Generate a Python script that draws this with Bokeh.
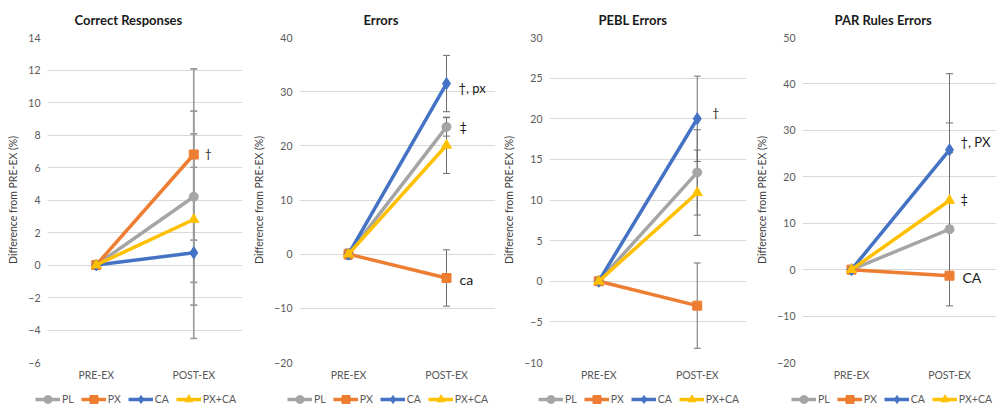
from bokeh.plotting import figure
from bokeh.layouts import row, column
from bokeh.models import Range1d, Legend, LegendItem, Label
from bokeh.embed import file_html
from bokeh.resources import INLINE

categories = ["PRE-EX", "POST-EX"]
series_names = ["PL", "PX", "CA", "PX+CA"]
series_colors = ["#A5A5A5", "#ED7D31", "#4472C4", "#FFC000"]
series_markers = ["circle", "square", "diamond", "triangle"]
series_msize = [9, 9, 12, 10]
titles = ["Correct Responses", "Errors", "PEBL Errors", "PAR Rules Errors"]

# Correct Responses
cr_pl = [0.0, 4.2]
cr_px = [0.0, 6.8]
cr_ca = [0.0, 0.75]
cr_pxca = [0.0, 2.8]
cr_err_pl = [0.0, 5.27]
cr_err_px = [0.0, 5.27]
cr_err_ca = [0.0, 5.27]
cr_err_pxca = [0.0, 5.27]

# Errors
er_pl = [0.0, 23.5]
er_px = [0.0, -4.4]
er_ca = [0.0, 31.5]
er_pxca = [0.0, 20.1]
er_err_pl = [0.95, 1.7]
er_err_px = [0.0, 5.2]
er_err_ca = [0.0, 5.2]
er_err_pxca = [0.0, 5.2]

# PEBL Errors
pe_pl = [0.0, 13.4]
pe_px = [0.0, -3.0]
pe_ca = [0.0, 20.0]
pe_pxca = [0.0, 10.9]
pe_err_pl = [0.0, 5.25]
pe_err_px = [0.0, 5.25]
pe_err_ca = [0.0, 5.25]
pe_err_pxca = [0.0, 5.25]

# PAR Rules Errors
pr_pl = [0.0, 8.7]
pr_px = [0.0, -1.3]
pr_ca = [0.0, 25.8]
pr_pxca = [0.0, 14.9]
pr_err_pl = [0.0, 16.5]
pr_err_px = [0.0, 0.0]
pr_err_ca = [0.0, 16.4]
pr_err_pxca = [0.0, 16.7]

# y axis ranges / steps
y_lows = [-6, -20, -10, -20]
y_highs = [14, 40, 30, 50]
y_steps = [2, 10, 5, 10]

# significance notes: (text, series index)
notes_cr = [("†", 1)]
notes_er = [("†, px", 2), ("‡", 0), ("ca", 1)]
notes_pe = [("†", 2)]
notes_pr = [("†, PX", 2), ("‡", 3), ("CA", 1)]

FONT = "Lato"
NAN = float("nan")

panels = [
    dict(vals=[cr_pl, cr_px, cr_ca, cr_pxca], errs=[cr_err_pl, cr_err_px, cr_err_ca, cr_err_pxca], notes=notes_cr,
         width=250, left=47, right=8, x_end=1.5, ecol="#9a9a9a", ew=1.6, title_off=27, leg_x=34,
         note_style={"†": (11, 1, "12px")}),
    dict(vals=[er_pl, er_px, er_ca, er_pxca], errs=[er_err_pl, er_err_px, er_err_ca, er_err_pxca], notes=notes_er,
         width=250, left=49, right=5, x_end=1.5, ecol="#6f6f6f", ew=1, title_off=64, leg_x=36,
         note_style={"†, px": (12, -4, "13px"), "‡": (13, 0, "13px"), "ca": (13, -1, "14px")}),
    dict(vals=[pe_pl, pe_px, pe_ca, pe_pxca], errs=[pe_err_pl, pe_err_px, pe_err_ca, pe_err_pxca], notes=notes_pe,
         width=250, left=49, right=4, x_end=1.5, ecol="#6f6f6f", ew=1, title_off=49, leg_x=37,
         note_style={"†": (15, 6, "12px")}),
    dict(vals=[pr_pl, pr_px, pr_ca, pr_pxca], errs=[pr_err_pl, pr_err_px, pr_err_ca, pr_err_pxca], notes=notes_pr,
         width=246, left=52, right=0, x_end=-0.5 + 194 / 98.0, ecol="#6f6f6f", ew=1, title_off=32, leg_x=40,
         note_style={"†, PX": (11, 8, "13px"), "‡": (11, 1, "13px"), "CA": (13, -2, "14px")}),
]

xs = list(range(len(categories)))
figs = []
legs = []
for i, cfg in enumerate(panels):
    lo, hi, st = y_lows[i], y_highs[i], y_steps[i]
    p = figure(width=cfg["width"], height=388, x_range=Range1d(-0.5, cfg["x_end"]),
               y_range=Range1d(lo, hi), output_backend="svg", toolbar_location=None,
               min_border_left=cfg["left"], min_border_right=cfg["right"],
               min_border_top=37, min_border_bottom=26, title=titles[i])
    p.title.align = "left"
    p.title.offset = cfg["title_off"]
    p.title.text_font = FONT
    p.title.text_font_size = "13px"
    p.title.text_font_style = "bold"
    p.title.text_color = "#1a1a1a"
    p.title.standoff = 19
    p.outline_line_color = None
    p.xgrid.visible = False
    p.ygrid.grid_line_color = "#d9d9d9"
    p.ygrid.grid_line_width = 1
    p.yaxis.ticker = list(range(lo, hi + 1, st))
    p.xaxis.ticker = xs
    p.xaxis.major_label_overrides = {x: c for x, c in zip(xs, categories)}
    p.axis.axis_line_color = None
    p.axis.major_tick_line_color = None
    p.axis.minor_tick_line_color = None
    p.axis.major_tick_out = 0
    p.axis.minor_tick_out = 0
    p.axis.major_label_text_font = FONT
    p.axis.major_label_text_font_size = "10.5px"
    p.axis.major_label_text_color = "#595959"
    p.xaxis.major_label_standoff = 6
    p.yaxis.major_label_standoff = 7
    p.yaxis.axis_label = "Difference from PRE-EX (%)"
    p.yaxis.axis_label_text_font = FONT
    p.yaxis.axis_label_text_font_size = "10.5px"
    p.yaxis.axis_label_text_font_style = "normal"
    p.yaxis.axis_label_text_color = "#404040"
    p.yaxis.axis_label_standoff = 6

    # error bars (drawn first, under the lines)
    for vals, errs in zip(cfg["vals"], cfg["errs"]):
        bx = [x for x, e in zip(xs, errs) if e > 0]
        up = [v + e for v, e in zip(vals, errs) if e > 0]
        dn = [v - e for v, e in zip(vals, errs) if e > 0]
        if bx:
            p.segment(x0=bx, y0=dn, x1=bx, y1=up, line_color=cfg["ecol"], line_width=cfg["ew"])
            p.scatter(bx, up, marker="dash", size=7, line_color=cfg["ecol"], line_width=cfg["ew"])
            p.scatter(bx, dn, marker="dash", size=7, line_color=cfg["ecol"], line_width=cfg["ew"])

    for name, col, mk, ms, vals in zip(series_names, series_colors, series_markers, series_msize, cfg["vals"]):
        p.line(xs, vals, line_color=col, line_width=3.5)
        p.scatter(xs, vals, marker=mk, size=ms, fill_color=col, line_color=col)

    for text, si in cfg["notes"]:
        dx, dy, fs = cfg["note_style"][text]
        p.add_layout(Label(x=xs[1], y=cfg["vals"][si][1], x_offset=dx, y_offset=dy, text=text,
                           text_baseline="middle", text_align="left", text_font=FONT,
                           text_font_size=fs, text_color="#1a1a1a"))
    figs.append(p)

    # legend strip under each chart (proxy renderers hold a single NaN point, so they draw nothing)
    lp = figure(width=cfg["width"], height=22, x_range=Range1d(0, 1), y_range=Range1d(0, 1),
                output_backend="svg", toolbar_location=None,
                x_axis_location=None, y_axis_location=None,
                min_border_left=0, min_border_right=0, min_border_top=0, min_border_bottom=0)
    lp.grid.visible = False
    lp.outline_line_color = None
    items = []
    for name, col, mk in zip(series_names, series_colors, series_markers):
        lr = lp.line(x=[NAN], y=[NAN], line_color=col, line_width=3.5)
        sr = lp.scatter(x=[NAN], y=[NAN], marker=mk, fill_color=col, line_color=col)
        items.append(LegendItem(label=name, renderers=[lr, sr]))
    legend = Legend(items=items, orientation="horizontal", location=(cfg["leg_x"], 0),
                    glyph_width=25, glyph_height=20, label_standoff=2, spacing=7,
                    padding=1, margin=0, border_line_alpha=0, background_fill_alpha=0,
                    label_width=0, label_height=20,
                    label_text_font=FONT, label_text_font_size="10.5px",
                    label_text_color="#595959")
    lp.add_layout(legend)
    legs.append(lp)

layout = column(row(*figs, spacing=0), row(*legs, spacing=0), spacing=0)
open("out.html", "w").write(file_html(layout, INLINE))
